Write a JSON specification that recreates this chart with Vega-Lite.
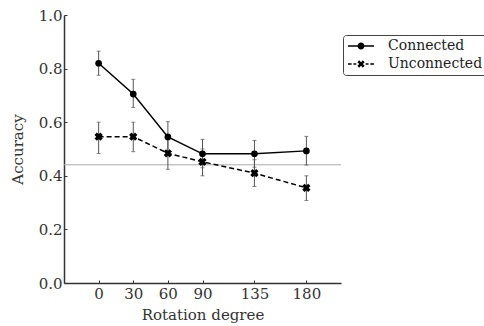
{
  "$schema": "https://vega.github.io/schema/vega-lite/v6.json",
  "width": 277,
  "height": 268,
  "autosize": "none",
  "padding": {"left": 64, "top": 15, "right": 143, "bottom": 43},
  "background": "white",
  "config": {
    "view": {"stroke": null},
    "font": "DejaVu Serif",
    "axis": {
      "labelFont": "DejaVu Serif", "titleFont": "DejaVu Serif",
      "labelFontSize": 15, "titleFontSize": 15, "titleFontWeight": "normal",
      "labelColor": "#333", "titleColor": "#333",
      "domainColor": "#333", "domainWidth": 1.5,
      "tickColor": "#333", "tickSize": -3, "tickWidth": 1,
      "grid": false
    },
    "legend": {
      "orient": "none", "legendX": 279, "legendY": 20,
      "title": null,
      "strokeColor": "#444", "cornerRadius": 3, "padding": 4, "fillColor": "white",
      "labelFont": "DejaVu Serif", "labelFontSize": 14, "labelColor": "#222",
      "labelOffset": 27, "rowPadding": 4,
      "symbolSize": 144, "symbolStrokeWidth": 0,
      "symbolFillColor": "black"
    }
  },
  "datasets": {
    "acc": [
      {"deg": 0, "series": "Connected", "acc": 0.82, "lo": 0.775, "hi": 0.865},
      {"deg": 30, "series": "Connected", "acc": 0.705, "lo": 0.655, "hi": 0.76},
      {"deg": 60, "series": "Connected", "acc": 0.545, "lo": 0.49, "hi": 0.602},
      {"deg": 90, "series": "Connected", "acc": 0.482, "lo": 0.43, "hi": 0.536},
      {"deg": 135, "series": "Connected", "acc": 0.482, "lo": 0.432, "hi": 0.532},
      {"deg": 180, "series": "Connected", "acc": 0.493, "lo": 0.44, "hi": 0.547},
      {"deg": 0, "series": "Unconnected", "acc": 0.546, "lo": 0.483, "hi": 0.6},
      {"deg": 30, "series": "Unconnected", "acc": 0.546, "lo": 0.49, "hi": 0.6},
      {"deg": 60, "series": "Unconnected", "acc": 0.484, "lo": 0.424, "hi": 0.545},
      {"deg": 90, "series": "Unconnected", "acc": 0.452, "lo": 0.4, "hi": 0.5},
      {"deg": 135, "series": "Unconnected", "acc": 0.41, "lo": 0.36, "hi": 0.46},
      {"deg": 180, "series": "Unconnected", "acc": 0.355, "lo": 0.308, "hi": 0.4}
    ],
    "chance": [{"chance": 0.441}]
  },
  "layer": [
    {
      "data": {"name": "chance"},
      "mark": {"type": "rule", "color": "#aaaaaa", "strokeWidth": 1},
      "encoding": {"y": {"field": "chance", "type": "quantitative", "title": "Accuracy", "scale": {"domain": [0, 1]}}}
    },
    {
      "data": {"name": "acc"},
      "mark": {"type": "errorbar", "color": "#555", "thickness": 1, "ticks": {"size": 4, "color": "#555", "thickness": 1}},
      "encoding": {
        "x": {"field": "deg", "type": "quantitative", "title": "Rotation degree"},
        "y": {"field": "lo", "type": "quantitative", "title": "Accuracy"},
        "y2": {"field": "hi"}
      }
    },
    {
      "data": {"name": "acc"},
      "transform": [{"filter": "datum.series === 'Connected'"}],
      "mark": {"type": "line", "color": "black", "strokeWidth": 1.5},
      "encoding": {
        "x": {"field": "deg", "type": "quantitative",
              "scale": {"domain": [-30, 210], "nice": false, "zero": false},
              "axis": {"values": [0, 30, 60, 90, 135, 180], "title": "Rotation degree", "labelPadding": 6, "titlePadding": 6}},
        "y": {"field": "acc", "type": "quantitative",
              "scale": {"domain": [0, 1], "nice": false},
              "axis": {"values": [0, 0.2, 0.4, 0.6, 0.8, 1.0], "format": ".1f", "title": "Accuracy", "labelPadding": 5, "titlePadding": 13}}
      }
    },
    {
      "data": {"name": "acc"},
      "transform": [{"filter": "datum.series === 'Unconnected'"}],
      "mark": {"type": "line", "color": "black", "strokeWidth": 1.5, "strokeDash": [5, 3]},
      "encoding": {
        "x": {"field": "deg", "type": "quantitative"},
        "y": {"field": "acc", "type": "quantitative"}
      }
    },
    {
      "data": {"name": "acc"},
      "transform": [{"filter": "datum.series === 'Connected'"}],
      "mark": {"type": "point", "filled": true, "color": "black", "opacity": 1, "size": 45, "shape": "circle"},
      "encoding": {
        "x": {"field": "deg", "type": "quantitative"},
        "y": {"field": "acc", "type": "quantitative"}
      }
    },
    {
      "data": {"name": "acc"},
      "transform": [{"filter": "datum.series === 'Unconnected'"}],
      "mark": {"type": "point", "filled": true, "color": "black", "opacity": 1, "size": 70, "shape": "cross", "angle": 45},
      "encoding": {
        "x": {"field": "deg", "type": "quantitative"},
        "y": {"field": "acc", "type": "quantitative"}
      }
    },
    {
      "data": {"name": "acc"},
      "mark": {"type": "point", "filled": true, "color": "black", "opacity": 0, "size": 144},
      "encoding": {
        "x": {"field": "deg", "type": "quantitative"},
        "y": {"field": "acc", "type": "quantitative"},
        "shape": {"field": "series", "type": "nominal", "title": null,
                  "scale": {"domain": ["Connected", "Unconnected"],
                            "range": ["M-1,-0.125L3.333,-0.125L3.333,0.125L-1,0.125ZM1.752,0A0.585,0.585,0,1,1,0.582,0A0.585,0.585,0,1,1,1.752,0Z",
                                      "M-1,-0.125L-0.393,-0.125L-0.393,0.125L-1,0.125ZM-0.09,-0.125L0.387,-0.125L0.387,0.125L-0.09,0.125ZM1.947,-0.125L2.423,-0.125L2.423,0.125L1.947,0.125ZM2.727,-0.125L3.333,-0.125L3.333,0.125L2.727,0.125ZM1.78,-0.306L1.472,0L1.78,0.306L1.472,0.613L1.167,0.306L0.861,0.613L0.554,0.306L0.861,0L0.554,-0.306L0.861,-0.613L1.167,-0.306L1.472,-0.613Z"]},
                  "legend": {
                    "encode": {"symbols": {"update": {
                      "fill": {"value": "black"},
                      "opacity": {"value": 1}
                    }}}
                  }}
      }
    }
  ]
}
